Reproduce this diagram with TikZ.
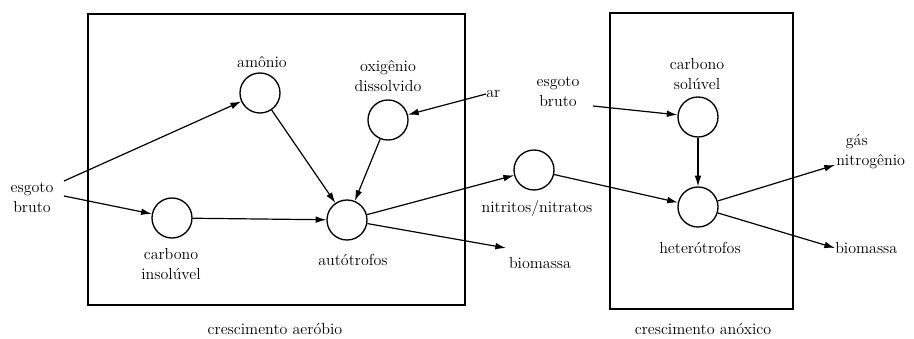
\documentclass[tikz,border=0pt]{standalone}
\usetikzlibrary{arrows.meta}
\tikzset{
  pool/.style={draw, circle, minimum size=30pt, inner sep=0pt, line width=1pt},
  lbl/.style={align=center, font=\fontsize{12}{15}\selectfont, inner sep=0pt},
  flow/.style={line width=0.9pt, -{Latex[length=8pt,width=5pt]}},
}
\begin{document}
\begin{tikzpicture}[x=0.75pt,y=-0.75pt]
  \useasboundingbox (0,0) rectangle (914,339);
  % the two reactors
  \draw [line width=1.1pt] (88,14) rectangle (465,305);
  \draw [line width=1.1pt] (610,13) rectangle (793,309);
  \node [lbl] (aerob) at (275,329) {crescimento aeróbio};
  \node [lbl] (anox) at (703,329) {crescimento anóxico};
  % pools
  \node [pool] (amon) at (260,93) {};
  \node [pool] (oxig) at (388,120) {};
  \node [pool] (cins) at (172,218) {};
  \node [pool] (auto) at (347,220) {};
  \node [pool] (nitr) at (534,170) {};
  \node [pool] (csol) at (698,117) {};
  \node [pool] (hetr) at (698,207) {};
  % labels
  \node [lbl] (esg) at (32,198) {esgoto\\bruto};
  \node [lbl] (amonl) at (262,62) {amônio};
  \node [lbl] (oxigl) at (388,76) {oxigênio\\dissolvido};
  \node [lbl, anchor=west] (ar) at (486,94) {ar};
  \node [lbl] (cinsl) at (171,264) {carbono\\insolúvel};
  \node [lbl] (autol) at (353,260) {autótrofos};
  \node [lbl] (bio) at (540,263) {biomassa};
  \node [lbl] (nitrl) at (537,208) {nitritos/nitratos};
  \node [lbl] (esgb) at (558,92) {esgoto\\bruto};
  \node [lbl] (csoll) at (697,74) {carbono\\solúvel};
  \node [lbl] (hetrl) at (700,248) {heterótrofos};
  \node [lbl, align=left, anchor=west] (gas) at (836,152) {\hspace*{0.6em}gás\\nitrogênio};
  \node [lbl, anchor=west] (bio2) at (835,248) {biomassa};
  % free ends
  \coordinate (e1) at (64,181);
  \coordinate (e2) at (64,196);
  \coordinate (e3) at (593,106);
  \coordinate (b1) at (506,248);
  \coordinate (g1) at (835,165);
  \coordinate (b2) at (835,248);
  % flows
  \draw [flow] (e1) -- (amon);
  \draw [flow] (e2) -- (cins);
  \draw [flow] (amon) -- (auto);
  \draw [flow] (oxig) -- (auto);
  \draw [flow] (ar.west) -- (oxig);
  \draw [flow] (cins) -- (auto);
  \draw [flow] (auto) -- (nitr);
  \draw [flow] (auto) -- (b1);
  \draw [flow] (nitr) -- (hetr);
  \draw [flow] (e3) -- (csol);
  \draw [flow] (csol) -- (hetr);
  \draw [flow] (hetr) -- (g1);
  \draw [flow] (hetr) -- (b2);
\end{tikzpicture}
\end{document}
